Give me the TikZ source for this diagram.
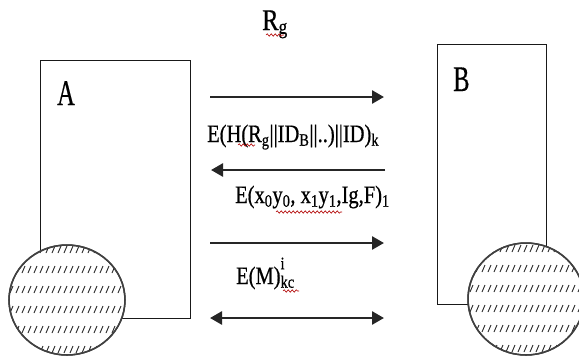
\documentclass[tikz,border=0pt]{standalone}
\usepackage{fontspec}
\setmainfont{Liberation Serif}
\newfontfamily\lblfont[FakeStretch=0.82,FakeBold=0.6]{Liberation Serif}
\newfontfamily\abfont[FakeStretch=0.68,FakeBold=0.4]{Liberation Serif}
\usetikzlibrary{arrows.meta,decorations.pathmorphing}
\tikzset{
  lbl/.style={font=\lblfont\fontsize{25}{28}\selectfont, inner sep=0pt, anchor=base west},
  biglbl/.style={font=\lblfont\fontsize{30}{32}\selectfont, inner sep=0pt, anchor=base west},
  ablbl/.style={font=\abfont\fontsize{36}{38}\selectfont, inner sep=0pt, anchor=base west},
  party/.style={draw=black!90, line width=1.4pt, fill=white},
  disk/.style={draw=black!75, line width=1.5pt, fill=white},
  hatch/.style={draw=black!85, line width=0.9pt},
  msg/.style={draw=black!85, line width=2.6pt, -{Triangle[length=12pt,width=13pt]}},
  msgboth/.style={draw=black!85, line width=2.6pt, {Triangle[length=12pt,width=13pt]}-{Triangle[length=12pt,width=13pt]}},
  spell/.style={draw=red!70!black, line width=0.6pt, decorate, decoration={snake, amplitude=1.2pt, segment length=4pt}}
}
\begin{document}
\begin{tikzpicture}[x=1pt,y=-1pt]
\useasboundingbox (0,0) rectangle (579,360);
\fill[white] (0,0) rectangle (579,360);
% parties
\node[party, minimum width=150pt, minimum height=258pt, anchor=north west, inner sep=0pt] (A) at (40,60) {};
\node[party, minimum width=109pt, minimum height=260pt, anchor=north west, inner sep=0pt] (B) at (437,44) {};
% disks
\path[disk] (67,300) ellipse [x radius=58, y radius=55];
\begin{scope}
  \clip (67,300) ellipse [x radius=58, y radius=55];
  \foreach \r in {250,270,...,350} \foreach \c in {4,10,...,130} \draw[hatch] (\c,\r+3) -- ++(3,-7);
\end{scope}
\draw[disk, fill=none] (67,300) ellipse [x radius=58, y radius=55];
\path[disk] (526,299) ellipse [x radius=58, y radius=56];
\begin{scope}
  \clip (526,299) ellipse [x radius=58, y radius=56];
  \foreach \r in {249,269,...,349} \foreach \c in {464,470,...,590} \draw[hatch] (\c,\r+3) -- ++(3,-7);
\end{scope}
\draw[disk, fill=none] (526,299) ellipse [x radius=58, y radius=56];
% party labels
\node[ablbl] (la) at (57,105) {A};
\node[ablbl] (lb) at (453,91) {B};
% message endpoints
\coordinate (m1s) at (210,97);  \coordinate (m1e) at (384,97);
\coordinate (m2s) at (385,170); \coordinate (m2e) at (211,170);
\coordinate (m3s) at (210,243); \coordinate (m3e) at (384,243);
\coordinate (m4s) at (210,318); \coordinate (m4e) at (384,318);
\draw[msg] (m1s) -- (m1e);
\draw[msg] (m2s) -- (m2e);
\draw[msg] (m3s) -- (m3e);
\draw[msgboth] (m4s) -- (m4e);
% message labels
\node[biglbl] (rg) at (262,30) {R\textsubscript{g}};
\node[lbl] (l2) at (207,142) {E(H(R\textsubscript{g}||ID\textsubscript{B}||..)||ID)\textsubscript{k}};
\node[lbl] (l3) at (235,203) {E(x\textsubscript{0}y\textsubscript{0}, x\textsubscript{1}y\textsubscript{1},Ig,F)\textsubscript{1}};
\node[lbl] (l4) at (236,284) {E(M)\rlap{\raisebox{0.5ex}{\textsuperscript{i}}}\textsubscript{kc}};
% spell-check underlines
\coordinate (s1a) at (266,35); \coordinate (s1b) at (284,35);
\coordinate (s2a) at (238,145); \coordinate (s2b) at (255,145);
\coordinate (s3a) at (276,212); \coordinate (s3b) at (342,212);
\coordinate (s4a) at (283,291); \coordinate (s4b) at (299,291);
\draw[spell] (s1a) -- (s1b);
\draw[spell] (s2a) -- (s2b);
\draw[spell] (s3a) -- (s3b);
\draw[spell] (s4a) -- (s4b);
\end{tikzpicture}
\end{document}
